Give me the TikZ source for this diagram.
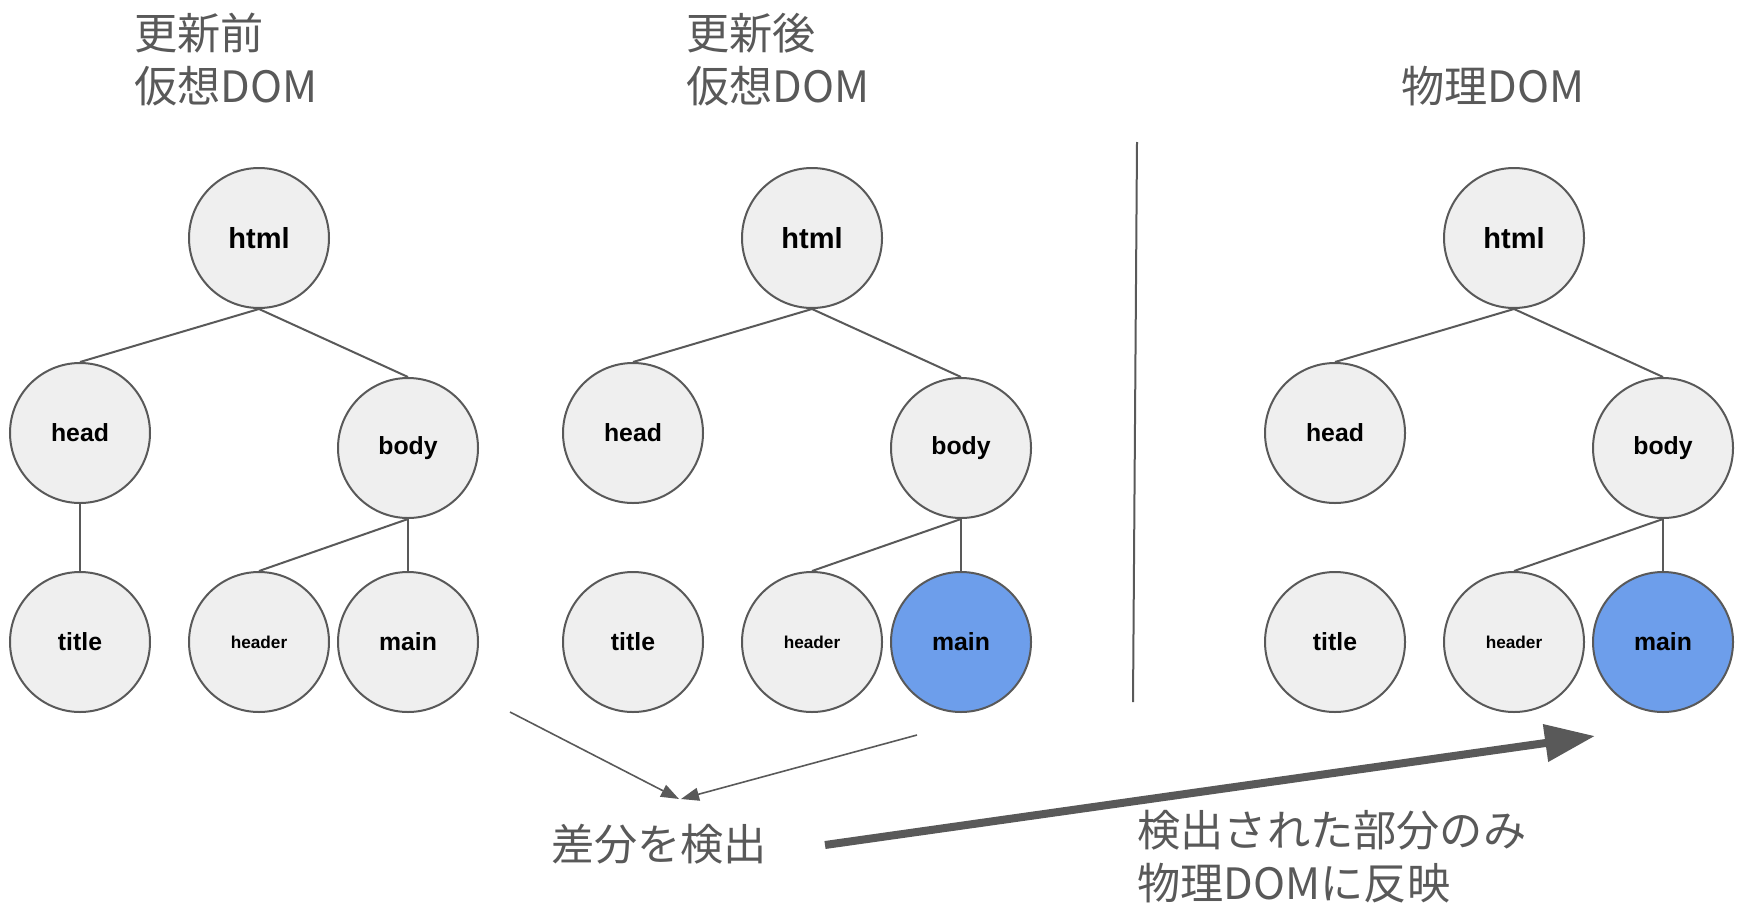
\documentclass[tikz,border=0pt]{standalone}
\usepackage{fontspec}
\setmainfont{Liberation Sans}
\newfontfamily\jpfont{Noto Sans CJK JP}
\usepackage{tikz}
\usetikzlibrary{positioning,arrows.meta}
\definecolor{nodefill}{HTML}{EFEFEF}
\definecolor{nodeline}{HTML}{595959}
\definecolor{newblue}{HTML}{6D9EEB}
\definecolor{labelgray}{HTML}{595959}

\begin{document}
\begin{tikzpicture}[x=0.5pt,y=-0.5pt,
	domnode/.style={circle,draw=nodeline,fill=nodefill,line width=1pt,minimum size=70pt,inner sep=0pt,font=\bfseries\fontsize{12.4}{14}\selectfont},
	rootnode/.style={domnode,font=\bfseries\fontsize{14.5}{16}\selectfont},
	smallnode/.style={domnode,font=\bfseries\fontsize{8.6}{10}\selectfont},
	changed/.style={fill=newblue},
	edge/.style={draw=nodeline,line width=1pt},
	caption/.style={inner sep=0pt,align=left,text=labelgray,font=\jpfont\fontsize{21.6}{26.5}\selectfont},
	diffarrow/.style={draw=nodeline,line width=0.8pt,-{Triangle[length=9pt,width=6.5pt]}}]
		\useasboundingbox (0,0) rectangle (1744,910);

		%titles
		\node[caption,anchor=west] (t1) at (134,60) {更新前\\仮想DOM};
		\node[caption,anchor=west] (t2) at (686,60) {更新後\\仮想DOM};
		\node[caption,anchor=west] (t3) at (1401,86) {物理DOM};

		%tree before
		\node[rootnode] (a1) at (259,238) {html};
		\node[domnode] (a2) at (80,433) {head};
		\node[domnode] (a3) at (408,448) {body};
		\node[domnode] (a4) at (80,642) {title};
		\node[smallnode] (a5) at (259,642) {header};
		\node[domnode] (a6) at (408,642) {main};

		%tree after
		\node[rootnode] (b1) at (812,238) {html};
		\node[domnode] (b2) at (633,433) {head};
		\node[domnode] (b3) at (961,448) {body};
		\node[domnode] (b4) at (633,642) {title};
		\node[smallnode] (b5) at (812,642) {header};
		\node[domnode,changed] (b6) at (961,642) {main};

		%real dom
		\node[rootnode] (c1) at (1514,238) {html};
		\node[domnode] (c2) at (1335,433) {head};
		\node[domnode] (c3) at (1663,448) {body};
		\node[domnode] (c4) at (1335,642) {title};
		\node[smallnode] (c5) at (1514,642) {header};
		\node[domnode,changed] (c6) at (1663,642) {main};

		%edges
		\draw[edge] (a1.south) -- (a2.north);
		\draw[edge] (a1.south) -- (a3.north);
		\draw[edge] (a2.south) -- (a4.north);
		\draw[edge] (a3.south) -- (a5.north);
		\draw[edge] (a3.south) -- (a6.north);
		\draw[edge] (b1.south) -- (b2.north);
		\draw[edge] (b1.south) -- (b3.north);
		\draw[edge] (b3.south) -- (b5.north);
		\draw[edge] (b3.south) -- (b6.north);
		\draw[edge] (c1.south) -- (c2.north);
		\draw[edge] (c1.south) -- (c3.north);
		\draw[edge] (c3.south) -- (c5.north);
		\draw[edge] (c3.south) -- (c6.north);

		%separator
		\coordinate (s1) at (1137,142);
		\coordinate (s2) at (1133,702);
		\draw[draw=nodeline,line width=1pt] (s1) -- (s2);

		%diff
		\node[caption] (diff) at (659,844) {差分を検出};
		\coordinate (d1) at (510,712);
		\coordinate (d2) at (917,735);
		\coordinate (d1e) at (679,799);
		\coordinate (d2e) at (681,799);
		\draw[diffarrow] (d1) -- (d1e);
		\draw[diffarrow] (d2) -- (d2e);

		%patch
		\node[caption,anchor=west] (patch) at (1137,857) {検出された部分のみ\\物理DOMに反映};
		\coordinate (p1) at (825,845);
		\coordinate (p2) at (1595,736);
		\draw[draw=nodeline,line width=4pt,-{Triangle[length=25pt,width=18pt]}] (p1) -- (p2);
	\end{tikzpicture}
\end{document}
